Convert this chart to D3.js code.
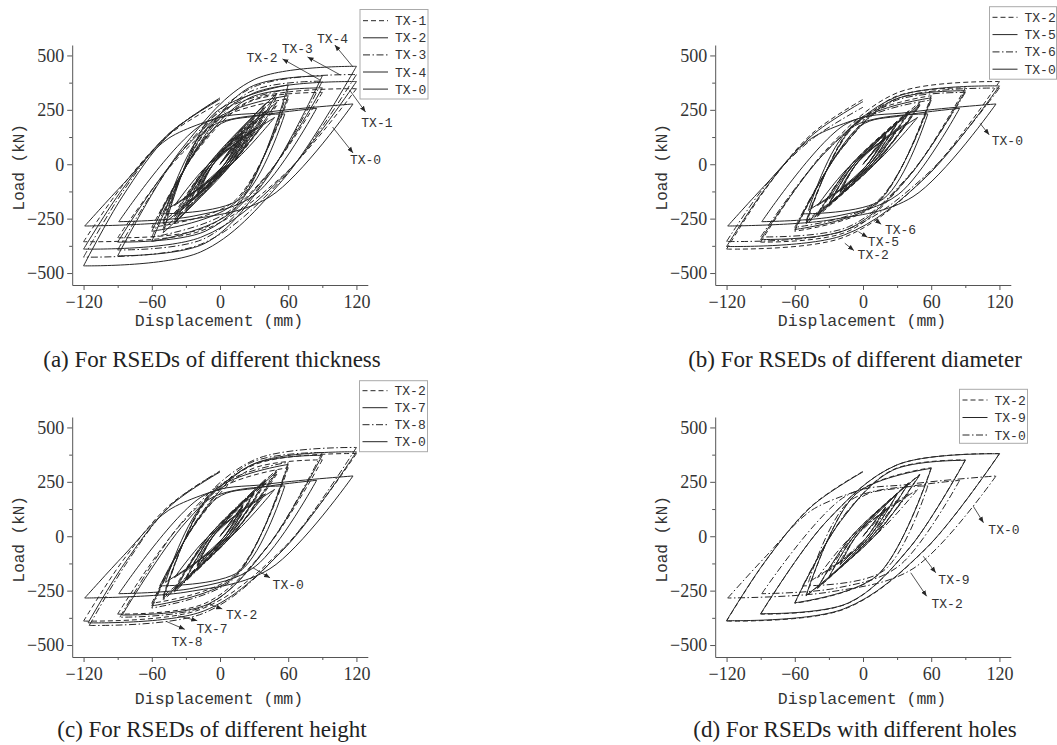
<!DOCTYPE html>
<html>
<head>
<meta charset="utf-8">
<script src="https://cdn.jsdelivr.net/npm/d3@7"></script>
<style>
  body { margin: 0; background: #fff; }
  svg { display: block; }
</style>
</head>
<body>
<svg id="fig" width="1057" height="745"></svg>
<script>
// load path of each specimen: [displacement (mm), load (kN)] in loading order
const TX0 = [[0,0],[20,120],[4,0],[-20,-115],[-6,0],[30,165],[6,0],[-30,-160],[-8,0],[40,195],[8,0],[-40,-190],
  [-10,0],[48,215],[10,0],[-48,-212],
  [-11,165],[57,231],[18,-159],[-53,-228],
  [-3,174],[34,223],[85,257],[31,-139],[-23,-238],[-89,-264],
  [-15,185],[41,239],[117,277],[44,-149],[-29,-256],[-119,-284],
  [-85,-90],[-45,120],[0,216]];
const TX1 = [[0,0],[20,130],[4,0],[-20,-125],[-6,0],[30,187],[6,0],[-30,-182],[-8,0],[40,233],[8,0],[-40,-228],
  [-10,0],[50,270],[10,0],[-50,-262],
  [-6,188],[60,300],[12,-172],[-60,-290],
  [-20,63],[26,287],[90,330],[41,-51],[-13,-291],[-90,-338],
  [-33,52],[30,299],[120,347],[55,-54],[-17,-307],[-120,-356],
  [-86,-100],[-45,135],[0,282]];
const TX2 = [[0,0],[20,135],[4,0],[-20,-130],[-6,0],[30,195],[6,0],[-30,-190],[-8,0],[40,245],[8,0],[-40,-240],
  [-10,0],[50,285],[10,0],[-50,-275],
  [-6,197],[60,315],[12,-183],[-60,-308],
  [-20,68],[26,305],[90,351],[41,-53],[-13,-308],[-90,-358],
  [-33,63],[30,328],[120,380],[55,-59],[-17,-336],[-120,-390],
  [-86,-116],[-45,140],[0,298]];
const TX3 = [[0,0],[20,145],[4,0],[-20,-140],[-6,0],[30,210],[6,0],[-30,-205],[-8,0],[40,265],[8,0],[-40,-258],
  [-10,0],[50,308],[10,0],[-50,-297],
  [-6,217],[60,345],[12,-199],[-60,-335],
  [-20,74],[26,332],[90,382],[41,-60],[-13,-340],[-90,-394],
  [-33,65],[30,356],[120,412],[55,-66],[-17,-368],[-120,-427],
  [-86,-130],[-45,140],[0,300]];
const TX4 = [[0,0],[20,155],[4,0],[-20,-148],[-6,0],[30,222],[6,0],[-30,-215],[-8,0],[40,280],[8,0],[-40,-272],
  [-10,0],[50,325],[10,0],[-50,-315],
  [-6,229],[60,365],[12,-211],[-60,-355],
  [-20,79],[26,353],[90,406],[41,-65],[-13,-363],[-90,-421],
  [-33,75],[30,389],[120,450],[55,-73],[-17,-403],[-120,-467],
  [-86,-150],[-45,135],[0,305]];
const TX5 = [[0,0],[20,132],[4,0],[-20,-127],[-6,0],[30,190],[6,0],[-30,-185],[-8,0],[40,238],[8,0],[-40,-233],
  [-10,0],[50,276],[10,0],[-50,-268],
  [-6,190],[60,305],[12,-179],[-60,-300],
  [-20,64],[26,293],[90,338],[41,-52],[-13,-298],[-90,-346],
  [-33,56],[30,311],[120,360],[55,-61],[-17,-326],[-120,-378],
  [-86,-112],[-45,132],[0,288]];
const TX6 = [[0,0],[20,130],[4,0],[-20,-125],[-6,0],[30,186],[6,0],[-30,-181],[-8,0],[40,232],[8,0],[-40,-227],
  [-10,0],[50,270],[10,0],[-50,-260],
  [-6,184],[60,295],[12,-173],[-60,-290],
  [-20,63],[26,287],[90,330],[41,-48],[-13,-288],[-90,-334],
  [-33,56],[30,302],[120,350],[55,-52],[-17,-306],[-120,-355],
  [-86,-100],[-45,115],[0,262]];
const TX7 = [[0,0],[20,140],[4,0],[-20,-135],[-6,0],[30,203],[6,0],[-30,-197],[-8,0],[40,255],[8,0],[-40,-250],
  [-10,0],[50,296],[10,0],[-50,-285],
  [-6,207],[60,330],[12,-190],[-60,-320],
  [-20,74],[26,324],[90,372],[42,-46],[-10,-311],[-86,-362],
  [-30,65],[31,335],[120,388],[56,-60],[-14,-343],[-116,-398],
  [-84,-125],[-44,138],[0,295]];
const TX8 = [[0,0],[20,143],[4,0],[-20,-138],[-6,0],[30,208],[6,0],[-30,-202],[-8,0],[40,262],[8,0],[-40,-256],
  [-10,0],[50,305],[10,0],[-50,-293],
  [-6,213],[60,340],[12,-196],[-60,-330],
  [-20,78],[26,335],[90,385],[42,-46],[-12,-319],[-88,-372],
  [-32,73],[31,353],[120,408],[56,-58],[-14,-353],[-115,-410],
  [-83,-130],[-44,140],[0,300]];
const TX9 = [[0,0],[20,134],[4,0],[-20,-129],[-6,0],[30,193],[6,0],[-30,-188],[-8,0],[40,243],[8,0],[-40,-237],
  [-10,0],[50,282],[10,0],[-50,-272],
  [-6,195],[60,312],[12,-182],[-60,-306],
  [-20,67],[26,303],[90,349],[41,-53],[-13,-307],[-90,-356],
  [-33,63],[30,328],[120,379],[55,-58],[-17,-334],[-120,-388],
  [-86,-115],[-45,138],[0,296]];

const xTicks = [-120, -60, 0, 60, 120];
const xMinor = [-90, -30, 30, 90];
const yTicks = [500, 250, 0, -250, -500];
const yMinor = [375, 125, -125, -375];

// callouts: [label, text x, text y, arrow head x, y, arrow tail x, y] in data units
const annA = [
  ['TX-2', 37, 489, 55, 484, 88, 387],
  ['TX-3', 68, 534, 77, 493, 106, 410],
  ['TX-4', 99, 576, 101, 548, 117, 447],
  ['TX-1', 138, 194, 128, 240, 114, 341],
  ['TX-0', 128, 20, 117, 52, 99, 171]
];
const annB = [
  ['TX-0', 127, 111, 111, 135, 103, 188],
  ['TX-6', 33, -298, 16, -276, 11, -256],
  ['TX-5', 18, -356, 4, -336, -4, -310],
  ['TX-2', 9, -416, -8, -397, -16, -363]
];
const annC = [
  ['TX-0', 60, -222, 44, -191, 29, -145],
  ['TX-2', 19, -360, 2, -334, -9, -314],
  ['TX-7', -7, -426, -20, -388, -37, -366],
  ['TX-8', -29, -482, -31, -428, -47, -392]
];
const annD = [
  ['TX-0', 124, 31, 106, 62, 97, 138],
  ['TX-9', 80, -199, 64, -168, 53, -92],
  ['TX-2', 74, -311, 56, -276, 42, -168]
];

const DASH = { solid: null, dash: '5,3', dashdot: '7,2.5,1.5,2.5' };

const panels = [
  { left: 72.2, bottom: 285, xlabY: 326, capY: 367,
    caption: '(a) For RSEDs of different thickness',
    series: [['TX-1', TX1, 'dash'], ['TX-2', TX2, 'solid'], ['TX-3', TX3, 'dashdot'], ['TX-4', TX4, 'solid'], ['TX-0', TX0, 'solid']],
    notes: annA, legend: { x: 360, y: 9.5, w: 68, h: 89.5, row0: 20.7, step: 17.1 } },
  { left: 715.2, bottom: 285, xlabY: 326, capY: 367,
    caption: '(b) For RSEDs of different diameter',
    series: [['TX-2', TX2, 'dash'], ['TX-5', TX5, 'solid'], ['TX-6', TX6, 'dashdot'], ['TX-0', TX0, 'solid']],
    notes: annB, legend: { x: 989.5, y: 6.7, w: 67, h: 72.5, row0: 17.3, step: 17.3 } },
  { left: 72.2, bottom: 657, xlabY: 704, capY: 737,
    caption: '(c) For RSEDs of different height',
    series: [['TX-2', TX2, 'dash'], ['TX-7', TX7, 'solid'], ['TX-8', TX8, 'dashdot'], ['TX-0', TX0, 'solid']],
    notes: annC, legend: { x: 359.5, y: 380.7, w: 68, h: 71, row0: 390.7, step: 17 } },
  { left: 715.2, bottom: 657, xlabY: 704, capY: 737,
    caption: '(d) For RSEDs with different holes',
    series: [['TX-2', TX2, 'dash'], ['TX-9', TX9, 'solid'], ['TX-0', TX0, 'dashdot']],
    notes: annD, legend: { x: 959.5, y: 389.3, w: 68, h: 54, row0: 400, step: 17.5 } }
];

const INK = '#262626';
const AXIS = '#555';
const SERIF = '"Liberation Serif", "Times New Roman", serif';
const MONO = '"Liberation Mono", "DejaVu Sans Mono", monospace';

const svg = d3.select('#fig');

svg.append('defs').append('marker')
  .attr('id', 'arr')
  .attr('viewBox', '0 0 10 10')
  .attr('refX', 10).attr('refY', 5)
  .attr('markerWidth', 6).attr('markerHeight', 6)
  .attr('markerUnits', 'userSpaceOnUse')
  .attr('orient', 'auto')
  .append('path')
  .attr('d', 'M0,1L10,5L0,9Z')
  .attr('fill', INK);

// split a load path into half cycles at every displacement reversal
function halfCycles(pts) {
  const segs = [];
  let cur = [pts[0]];
  for (let i = 1; i < pts.length; i++) {
    cur.push(pts[i]);
    const nx = pts[i + 1];
    if (nx && Math.sign(nx[0] - pts[i][0]) !== Math.sign(pts[i][0] - pts[i - 1][0])) {
      segs.push(cur);
      cur = [pts[i]];
    }
  }
  segs.push(cur);
  return segs;
}

function styleAxis(sel) {
  sel.attr('font-family', null).attr('font-size', null);
  sel.select('.domain').attr('stroke', AXIS);
  sel.selectAll('.tick line').attr('stroke', AXIS);
  sel.selectAll('.tick text')
    .attr('fill', '#333')
    .style('font-family', SERIF)
    .style('font-size', '18px');
}

panels.forEach(p => {
  const x = d3.scaleLinear().domain([-130, 130]).range([p.left, p.left + 295.6]);
  const y = d3.scaleLinear().domain([-555, 548]).range([p.bottom, p.bottom - 240]);
  const g = svg.append('g');

  // axes
  g.append('g')
    .attr('transform', `translate(0,${p.bottom})`)
    .call(d3.axisBottom(x).tickValues(xTicks).tickSize(5).tickPadding(5).tickSizeOuter(0))
    .call(styleAxis);
  g.append('g')
    .attr('transform', `translate(0,${p.bottom})`)
    .call(d3.axisBottom(x).tickValues(xMinor).tickSize(3).tickFormat(''))
    .call(s => s.select('.domain').remove())
    .call(s => s.selectAll('.tick line').attr('stroke', AXIS));

  g.append('g')
    .attr('transform', `translate(${x(-130)},0)`)
    .call(d3.axisLeft(y).tickValues(yTicks).tickSize(5).tickPadding(3).tickSizeOuter(0))
    .call(styleAxis);
  g.append('g')
    .attr('transform', `translate(${x(-130)},0)`)
    .call(d3.axisLeft(y).tickValues(yMinor).tickSize(3).tickFormat(''))
    .call(s => s.select('.domain').remove())
    .call(s => s.selectAll('.tick line').attr('stroke', AXIS));

  // axis titles
  g.append('text')
    .attr('x', x(0) - 1)
    .attr('y', p.xlabY)
    .attr('text-anchor', 'middle')
    .style('font-family', MONO)
    .style('font-size', '16.5px')
    .attr('fill', '#333')
    .text('Displacement (mm)');

  g.append('text')
    .attr('transform', `translate(${p.left - 48},${y(0) + 3}) rotate(-90)`)
    .attr('text-anchor', 'middle')
    .style('font-family', MONO)
    .style('font-size', '16px')
    .attr('fill', '#333')
    .text('Load (kN)');

  // hysteresis curves
  const line = d3.line()
    .x(d => x(d[0]))
    .y(d => y(d[1]))
    .curve(d3.curveCatmullRom.alpha(0.5));

  p.series.forEach(([name, data, style]) => {
    const sg = g.append('g').attr('class', 'series-' + name);
    halfCycles(data).forEach(seg => {
      sg.append('path')
        .attr('d', line(seg))
        .attr('fill', 'none')
        .attr('stroke', INK)
        .attr('stroke-width', 1)
        .attr('stroke-dasharray', DASH[style]);
    });
  });

  // callouts
  p.notes.forEach(([label, tx, ty, hx, hy, sx, sy]) => {
    g.append('line')
      .attr('x1', x(sx)).attr('y1', y(sy))
      .attr('x2', x(hx)).attr('y2', y(hy))
      .attr('stroke', INK)
      .attr('stroke-width', 0.8)
      .attr('marker-end', 'url(#arr)');
    g.append('text')
      .attr('x', x(tx))
      .attr('y', y(ty))
      .attr('dy', '0.35em')
      .attr('text-anchor', 'middle')
      .style('font-family', MONO)
      .style('font-size', '13px')
      .attr('fill', '#333')
      .text(label);
  });

  // legend
  const L = p.legend;
  const lg = g.append('g');
  lg.append('rect')
    .attr('x', L.x).attr('y', L.y)
    .attr('width', L.w).attr('height', L.h)
    .attr('fill', '#fff')
    .attr('stroke', '#aaa')
    .attr('stroke-width', 1);
  p.series.forEach(([name, , style], i) => {
    const ry = L.row0 + i * L.step;
    lg.append('line')
      .attr('x1', L.x + 3).attr('x2', L.x + 28)
      .attr('y1', ry).attr('y2', ry)
      .attr('stroke', INK)
      .attr('stroke-width', 1)
      .attr('stroke-dasharray', DASH[style]);
    lg.append('text')
      .attr('x', L.x + 35)
      .attr('y', ry)
      .attr('dy', '0.35em')
      .style('font-family', MONO)
      .style('font-size', '13px')
      .attr('fill', '#333')
      .text(name);
  });

  // caption
  g.append('text')
    .attr('x', x(0) - 8)
    .attr('y', p.capY)
    .attr('text-anchor', 'middle')
    .style('font-family', SERIF)
    .style('font-size', '23px')
    .attr('fill', '#222')
    .text(p.caption);
});
</script>
</body>
</html>
